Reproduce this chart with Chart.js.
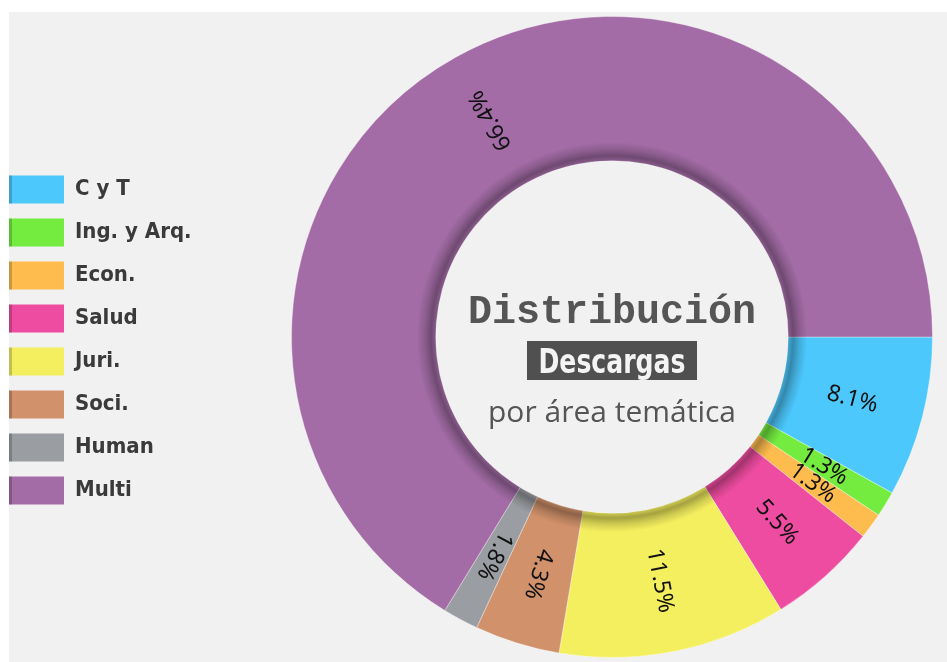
<!DOCTYPE html>
<html>
<head>
<meta charset="utf-8">
<script src="https://cdn.jsdelivr.net/npm/chart.js@4.4.1/dist/chart.umd.min.js"></script>
<style>
html, body { margin: 0; padding: 0; background: #fff; overflow: hidden; }
#panel { position: absolute; left: 9px; top: 12px; width: 938px; height: 650px; background: #f1f1f1; }
#chart { position: absolute; left: -6px; top: 12px; }
</style>
</head>
<body>
<div id="panel"></div>
<canvas id="chart" width="953" height="650"></canvas>
<script>
// datos del gráfico
const AREAS = ['C y T', 'Ing. y Arq.', 'Econ.', 'Salud', 'Juri.', 'Soci.', 'Human', 'Multi'];
const PERCENTS = [8.1, 1.3, 1.3, 5.5, 11.5, 4.3, 1.8, 66.4];
const COLORS = ['#4cc8fd', '#74ec3f', '#ffbc4e', '#ee4ca0', '#f4ef5f', '#d1916a', '#9a9da1', '#a36ca6'];
const CENTER_TITLE = 'Distribución';
const CENTER_BADGE = 'Descargas';
const CENTER_SUB = 'por área temática';

// ensancha la leyenda para que la dona quede a la derecha
const legendWidthPlugin = {
    id: 'legendWidth',
    beforeLayout(chart) {
        const lg = chart.legend;
        if (lg && !lg._wide) {
            const orig = lg.fit;
            lg.fit = function () { orig.call(this); this.width = 283; };
            lg._wide = true;
        }
    }
};

// sombra interior, porcentajes y texto central
const ringPlugin = {
    id: 'ring',
    afterDatasetsDraw(chart) {
        const ctx = chart.ctx;
        const arcs = chart.getDatasetMeta(0).data;
        if (!arcs.length) return;
        const {x, y, innerRadius} = arcs[0];

        ctx.save();
        const g = ctx.createRadialGradient(x, y, innerRadius, x, y, innerRadius + 19);
        g.addColorStop(0, 'rgba(0,0,0,0.16)');
        g.addColorStop(0.25, 'rgba(0,0,0,0.32)');
        g.addColorStop(0.6, 'rgba(0,0,0,0.14)');
        g.addColorStop(1, 'rgba(0,0,0,0)');
        ctx.beginPath();
        ctx.arc(x, y, innerRadius + 19, 0, Math.PI * 2);
        ctx.arc(x, y, innerRadius, 0, Math.PI * 2, true);
        ctx.fillStyle = g;
        ctx.fill();

        ctx.font = '23px "Noto Sans"';
        ctx.fillStyle = '#111';
        ctx.textAlign = 'center';
        ctx.textBaseline = 'middle';
        arcs.forEach((arc, i) => {
            const p = arc.getProps(['startAngle', 'endAngle', 'innerRadius', 'outerRadius']);
            const mid = (p.startAngle + p.endAngle) / 2;
            const r = (p.innerRadius + p.outerRadius) / 2;
            ctx.save();
            ctx.translate(x + Math.cos(mid) * r, y + Math.sin(mid) * r);
            ctx.rotate(mid);
            ctx.fillText(PERCENTS[i] + '%', 0, 0);
            ctx.restore();
        });

        // texto central
        ctx.textBaseline = 'alphabetic';
        ctx.fillStyle = '#555';
        ctx.font = 'bold 40px "Liberation Mono"';
        ctx.fillText(CENTER_TITLE, x, y - 14, 292);

        ctx.fillStyle = '#505050';
        ctx.fillRect(x - 85, y + 4, 170, 39);
        ctx.fillStyle = '#f4f4f4';
        ctx.font = 'bold 33px "DejaVu Sans Condensed", "DejaVu Sans"';
        ctx.fillText(CENTER_BADGE, x, y + 36, 147);

        ctx.fillStyle = '#555';
        ctx.font = '30px "Open Sans"';
        ctx.fillText(CENTER_SUB, x, y + 85, 270);
        ctx.restore();
    },
    afterDraw(chart) {
        // borde oscuro a la izquierda de cada cuadro de la leyenda
        const lg = chart.legend;
        if (!lg || !lg.legendHitBoxes) return;
        const ctx = chart.ctx;
        ctx.save();
        ctx.fillStyle = 'rgba(0,0,0,0.2)';
        lg.legendHitBoxes.forEach(h => ctx.fillRect(h.left, h.top, 3, 28));
        ctx.restore();
    }
};

const ctx = document.getElementById('chart').getContext('2d');
new Chart(ctx, {
    type: 'doughnut',
    data: {
        labels: AREAS,
        datasets: [{
            data: PERCENTS,
            backgroundColor: COLORS,
            borderColor: 'rgba(255,255,255,0.35)',
            borderWidth: 1
        }]
    },
    options: {
        responsive: false,
        animation: false,
        rotation: 90,
        cutout: '55%',
        layout: { padding: { top: 4, bottom: 4, left: 0, right: 0 } },
        plugins: {
            tooltip: { enabled: false },
            legend: {
                position: 'left',
                title: { display: true, text: '', font: { size: 5, lineHeight: 1 }, padding: 0.5 },
                labels: {
                    boxWidth: 55,
                    boxHeight: 28,
                    padding: 15,
                    color: '#3a3a3a',
                    font: { family: "'DejaVu Sans Condensed', sans-serif", size: 22, weight: 'bold' },
                    generateLabels: c => Chart.overrides.doughnut.plugins.legend.labels.generateLabels(c)
                        .map(l => ({...l, lineWidth: 0}))
                }
            }
        }
    },
    plugins: [legendWidthPlugin, ringPlugin]
});
</script>
</body>
</html>
